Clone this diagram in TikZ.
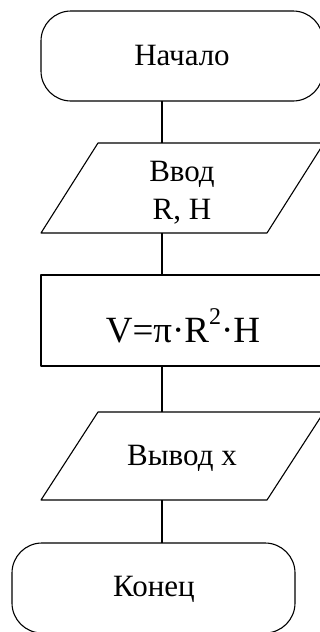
\documentclass[tikz,border=0pt]{standalone}
\usepackage{fontspec}
\setmainfont{Liberation Serif}
\begin{document}
\begin{tikzpicture}[x=1pt,y=1pt,
  shp/.style={draw=black,line width=1.1pt,line join=round},
  conn/.style={draw=black,line width=1.1pt},
  lbl/.style={font=\fontsize{31}{36}\selectfont,inner sep=0pt,align=center},
  big/.style={font=\fontsize{37}{42}\selectfont,inner sep=0pt}]
\useasboundingbox (0,0) rectangle (320,-632);
\clip (0,0) rectangle (320,-632);
% shapes
\draw[shp,rounded corners=30pt] (41,-11) rectangle (323,-101);
\draw[shp] (98,-143) -- (324,-143) -- (267,-233) -- (41,-233) -- cycle;
\draw[shp] (41,-275) rectangle (324,-366);
\draw[shp] (98,-412) -- (324,-412) -- (267,-500) -- (41,-500) -- cycle;
\draw[shp,rounded corners=30pt] (12,-543) rectangle (295,-633);
% texts
\node[lbl] (start) at (182,-56) {Начало};
\node[lbl] (in1) at (182,-174) {Ввод};
\node[lbl] (in2) at (182,-212) {R, H};
\node[big] (calc) at (183,-326) {V=π·R\raisebox{0.5em}{\fontsize{24}{24}\selectfont 2}·H};
\node[lbl] (out) at (182,-458) {Вывод x};
\node[lbl] (stop) at (154,-589) {Конец};
% connection points
\coordinate (a1) at (162,-101);
\coordinate (a2) at (162,-143);
\coordinate (b1) at (162,-233);
\coordinate (b2) at (162,-275);
\coordinate (c1) at (162,-366);
\coordinate (c2) at (162,-412);
\coordinate (d1) at (162,-500);
\coordinate (d2) at (162,-543);
\draw[conn] (a1) -- (a2);
\draw[conn] (b1) -- (b2);
\draw[conn] (c1) -- (c2);
\draw[conn] (d1) -- (d2);
\end{tikzpicture}
\end{document}
